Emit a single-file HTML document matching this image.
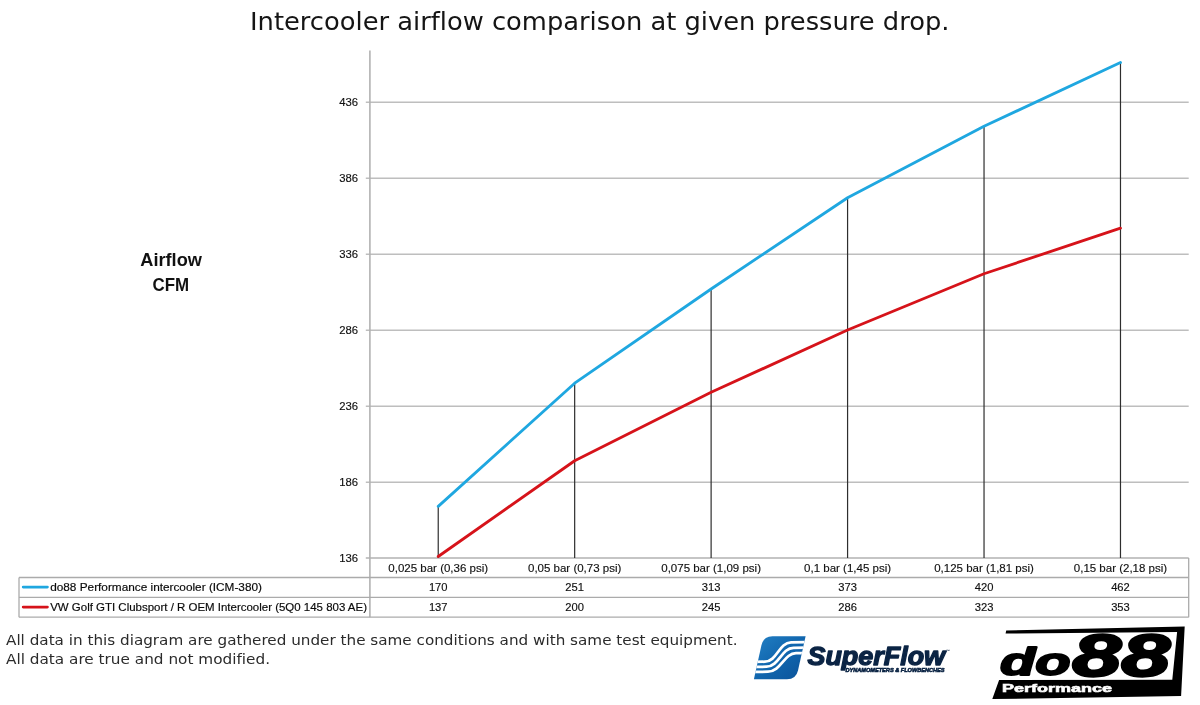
<!DOCTYPE html>
<html lang="en"><head><meta charset="utf-8"><title>Intercooler airflow comparison</title>
<style>
html,body{margin:0;padding:0;background:#fff;}
body{width:1200px;height:705px;overflow:hidden;}
svg{display:block;}
text{font-family:"Liberation Sans",sans-serif;font-variant-ligatures:none;}
.v{font-family:"DejaVu Sans","Liberation Sans",sans-serif;}
.ax{font-size:11.3px;fill:#111;stroke:#111;stroke-width:0.15px;}
.cat{font-size:11.5px;fill:#111;stroke:#111;stroke-width:0.15px;}
.val{font-size:11.2px;fill:#111;stroke:#111;stroke-width:0.15px;}
.leg{font-size:11.6px;fill:#0a0a0a;stroke:#0a0a0a;stroke-width:0.18px;}
</style></head><body>
<svg width="1200" height="705" viewBox="0 0 1200 705">
<rect width="1200" height="705" fill="#fff"/>
<text class="v" x="250" y="29.8" font-size="25.6" fill="#151515" textLength="699.5" lengthAdjust="spacingAndGlyphs">Intercooler airflow comparison at given pressure drop.</text>
<g stroke="#bebebe" stroke-width="1.55" fill="none">
<line x1="365.8" y1="102.25" x2="1188.7" y2="102.25"/>
<line x1="365.8" y1="178.25" x2="1188.7" y2="178.25"/>
<line x1="365.8" y1="254.25" x2="1188.7" y2="254.25"/>
<line x1="365.8" y1="330.25" x2="1188.7" y2="330.25"/>
<line x1="365.8" y1="406.25" x2="1188.7" y2="406.25"/>
<line x1="365.8" y1="482.25" x2="1188.7" y2="482.25"/>
</g>
<g stroke="#ababab" stroke-width="1.3" fill="none">
<line x1="369.9" y1="50.5" x2="369.9" y2="617.2" stroke="#b2b2b2" stroke-width="1.6"/>
<line x1="365.8" y1="558.1" x2="1188.7" y2="558.1" stroke="#b2b2b2" stroke-width="1.5"/>
<line x1="1188.7" y1="558" x2="1188.7" y2="617.2"/>
<line x1="19" y1="577.5" x2="1188.7" y2="577.5"/>
<line x1="19" y1="597.4" x2="1188.7" y2="597.4"/>
<line x1="19" y1="617.2" x2="1188.7" y2="617.2"/>
<line x1="19" y1="577.5" x2="19" y2="617.2"/>
</g>
<g stroke="#2e2e2e" stroke-width="1.2" fill="none">
<line x1="438.23" y1="506.32" x2="438.23" y2="558"/>
<line x1="574.67" y1="383.20" x2="574.67" y2="558"/>
<line x1="711.12" y1="288.96" x2="711.12" y2="558"/>
<line x1="847.58" y1="197.76" x2="847.58" y2="558"/>
<line x1="984.03" y1="126.32" x2="984.03" y2="558"/>
<line x1="1120.48" y1="62.48" x2="1120.48" y2="558"/>
</g>
<polyline points="438.23,556.48 574.67,460.72 711.12,392.32 847.58,330.00 984.03,273.76 1120.48,228.16" fill="none" stroke="#d6131a" stroke-width="2.85" stroke-linejoin="round" stroke-linecap="round"/>
<polyline points="438.23,506.32 574.67,383.20 711.12,288.96 847.58,197.76 984.03,126.32 1120.48,62.48" fill="none" stroke="#1fa7e0" stroke-width="2.85" stroke-linejoin="round" stroke-linecap="round"/>
<text class="ax" x="358" y="106.0" text-anchor="end">436</text>
<text class="ax" x="358" y="182.0" text-anchor="end">386</text>
<text class="ax" x="358" y="258.0" text-anchor="end">336</text>
<text class="ax" x="358" y="334.0" text-anchor="end">286</text>
<text class="ax" x="358" y="410.0" text-anchor="end">236</text>
<text class="ax" x="358" y="486.0" text-anchor="end">186</text>
<text class="ax" x="358" y="562.0" text-anchor="end">136</text>
<text x="140.3" y="266.4" font-size="17.8" font-weight="bold" fill="#111" textLength="61.6" lengthAdjust="spacingAndGlyphs">Airflow</text>
<text x="152.6" y="291.1" font-size="17.8" font-weight="bold" fill="#111" textLength="36.6" lengthAdjust="spacingAndGlyphs">CFM</text>
<text class="cat" x="438.23" y="571.7" text-anchor="middle">0,025 bar (0,36 psi)</text>
<text class="val" x="438.23" y="591.1" text-anchor="middle">170</text>
<text class="val" x="438.23" y="610.8" text-anchor="middle">137</text>
<text class="cat" x="574.67" y="571.7" text-anchor="middle">0,05 bar (0,73 psi)</text>
<text class="val" x="574.67" y="591.1" text-anchor="middle">251</text>
<text class="val" x="574.67" y="610.8" text-anchor="middle">200</text>
<text class="cat" x="711.12" y="571.7" text-anchor="middle">0,075 bar (1,09 psi)</text>
<text class="val" x="711.12" y="591.1" text-anchor="middle">313</text>
<text class="val" x="711.12" y="610.8" text-anchor="middle">245</text>
<text class="cat" x="847.58" y="571.7" text-anchor="middle">0,1 bar (1,45 psi)</text>
<text class="val" x="847.58" y="591.1" text-anchor="middle">373</text>
<text class="val" x="847.58" y="610.8" text-anchor="middle">286</text>
<text class="cat" x="984.03" y="571.7" text-anchor="middle">0,125 bar (1,81 psi)</text>
<text class="val" x="984.03" y="591.1" text-anchor="middle">420</text>
<text class="val" x="984.03" y="610.8" text-anchor="middle">323</text>
<text class="cat" x="1120.48" y="571.7" text-anchor="middle">0,15 bar (2,18 psi)</text>
<text class="val" x="1120.48" y="591.1" text-anchor="middle">462</text>
<text class="val" x="1120.48" y="610.8" text-anchor="middle">353</text>
<line x1="23.2" y1="587.1" x2="47.4" y2="587.1" stroke="#1fa7e0" stroke-width="2.8" stroke-linecap="round"/>
<line x1="23.2" y1="607.1" x2="47.4" y2="607.1" stroke="#d6131a" stroke-width="2.8" stroke-linecap="round"/>
<text class="leg" x="50.2" y="591.2" textLength="211.8" lengthAdjust="spacingAndGlyphs">do88 Performance intercooler (ICM-380)</text>
<text class="leg" x="50.2" y="610.9" textLength="316.8" lengthAdjust="spacingAndGlyphs">VW Golf GTI Clubsport / R OEM Intercooler (5Q0 145 803 AE)</text>
<text class="v" x="6" y="645.3" font-size="14.2" fill="#2b2b2b" textLength="731.5" lengthAdjust="spacingAndGlyphs">All data in this diagram are gathered under the same conditions and with same test equipment.</text>
<text class="v" x="6" y="663.8" font-size="14.2" fill="#2b2b2b" textLength="264" lengthAdjust="spacingAndGlyphs">All data are true and not modified.</text>
<defs>
<linearGradient id="sfg" x1="0" y1="0" x2="1" y2="1">
<stop offset="0" stop-color="#2380c4"/><stop offset="0.5" stop-color="#1166ae"/><stop offset="1" stop-color="#0b5299"/>
</linearGradient>
<clipPath id="sfc"><path d="M753.9 679.2 L761.5 645.1 Q763.5 636.3 772.5 636.3 L805.6 636.3 L798 670.4 Q796 679.2 787 679.2 Z"/></clipPath>
</defs>
<g id="superflow">
<path d="M753.9 679.2 L761.5 645.1 Q763.5 636.3 772.5 636.3 L805.6 636.3 L798 670.4 Q796 679.2 787 679.2 Z" fill="url(#sfg)"/>
<g clip-path="url(#sfc)" fill="none" stroke="#fff" stroke-width="2.75">
<path d="M752 662 L765 661.7 C777 661.4 779 642.6 791 642.4 L808 642.2"/>
<path d="M752 667 L766.5 666.7 C779 666.4 781.5 648 793.5 647.8 L808 647.6"/>
<path d="M752 672 L768 671.7 C781 671.4 784 653.4 796 653.2 L808 653"/>
</g>
<text x="807.5" y="664.8" font-size="25" font-weight="bold" font-style="italic" fill="#0b2444" stroke="#0b2444" stroke-width="1.3" stroke-linejoin="round" textLength="137.5" lengthAdjust="spacingAndGlyphs">SuperFlow</text>
<text x="845.5" y="671.8" font-size="5.3" font-weight="bold" font-style="italic" fill="#0b2444" stroke="#0b2444" stroke-width="0.55" textLength="99" lengthAdjust="spacingAndGlyphs">DYNAMOMETERS &amp; FLOWBENCHES</text>
<text x="946.3" y="651.5" font-size="3.6" font-weight="bold" fill="#0b2444">™</text>
</g>
<g id="do88">
<path d="M1006.2 630.5 L1184.7 626.6 L1181.1 696 L992.3 699.1 L999.1 680 L1172.3 679.7 L1177.1 632.1 L1005.6 633.5 Z" fill="#000"/>
<g font-family="'DejaVu Sans','Liberation Sans',sans-serif" font-weight="bold" font-style="italic" fill="#000" stroke="#000" stroke-linejoin="round">
<text x="1000" y="675.4" font-size="39.6" stroke-width="2" textLength="70.5" lengthAdjust="spacingAndGlyphs">do</text>
<text x="1072.3" y="675.6" font-size="59.4" stroke-width="2.3" textLength="98" lengthAdjust="spacingAndGlyphs">88</text>
</g>
<text x="1002" y="692.2" font-size="11.6" font-weight="bold" fill="#fff" stroke="#fff" stroke-width="0.6" textLength="110" lengthAdjust="spacingAndGlyphs">Performance</text>
</g>
</svg>
</body></html>
